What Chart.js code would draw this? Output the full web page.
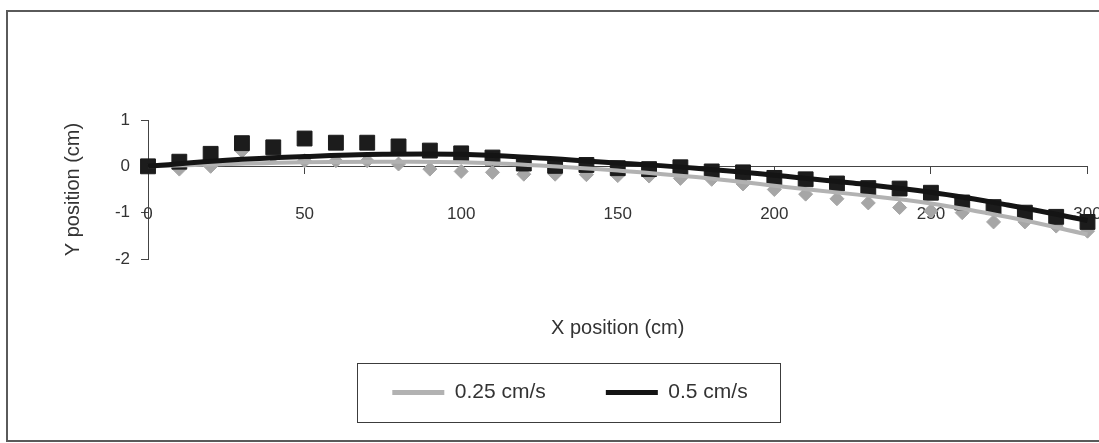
<!DOCTYPE html>
<html>
<head>
<meta charset="utf-8">
<script src="https://cdn.jsdelivr.net/npm/chart.js@4/dist/chart.umd.min.js"></script>
<style>
  html, body { margin: 0; padding: 0; background: #fff; }
  #wrap { position: relative; width: 1099px; height: 443px; overflow: hidden; }
  #frame { position: absolute; left: 6px; top: 10px; width: 1120px; height: 432px; border: 2px solid #5a5a5a; box-sizing: border-box; }
  #chart { position: absolute; left: 0; top: 0; }
</style>
</head>
<body>
<div id="wrap">
  <div id="frame"></div>
  <canvas id="chart" width="1099" height="443"></canvas>
</div>
<script>
// === Data ===
const xPositions = [0, 10, 20, 30, 40, 50, 60, 70, 80, 90, 100, 110, 120, 130, 140, 150,
  160, 170, 180, 190, 200, 210, 220, 230, 240, 250, 260, 270, 280, 290, 300];

// 0.5 cm/s measured points (black squares)
const yFast = [0, 0.1, 0.27, 0.5, 0.41, 0.6, 0.51, 0.51, 0.43, 0.34, 0.28, 0.19, 0.06, 0.01, 0.03, -0.04,
  -0.06, -0.02, -0.11, -0.13, -0.25, -0.28, -0.37, -0.47, -0.48, -0.57, -0.78, -0.88, -1.0, -1.09, -1.2];

// 0.25 cm/s measured points (gray diamonds)
const ySlow = [0, -0.06, 0.0, 0.33, 0.22, 0.12, 0.12, 0.12, 0.05, -0.06, -0.11, -0.13, -0.17, -0.17, -0.18, -0.2,
  -0.21, -0.26, -0.28, -0.38, -0.5, -0.6, -0.7, -0.79, -0.89, -0.96, -1.0, -1.2, -1.2, -1.29, -1.4];

// trend curves
const trendX = [0, 25, 50, 75, 100, 125, 150, 175, 200, 225, 250, 275, 300];
const trendFast = [0, 0.13, 0.21, 0.26, 0.26, 0.18, 0.07, -0.04, -0.19, -0.36, -0.56, -0.84, -1.17];
const trendSlow = [0, 0.05, 0.09, 0.1, 0.09, 0.02, -0.09, -0.23, -0.42, -0.6, -0.8, -1.1, -1.47];

const xTicks = [0, 50, 100, 150, 200, 250, 300];
const yTicks = [-2, -1, 0, 1];

const FONT = "'Liberation Sans', Arial, sans-serif";
const pts = (xs, ys) => xs.map((x, i) => ({ x, y: ys[i] }));

// === Box around the legend ===
const legendFrame = {
  id: "legendFrame",
  afterDraw(chart) {
    const boxes = chart.legend && chart.legend.legendHitBoxes;
    if (!boxes || !boxes.length) return;
    const { ctx } = chart;
    const left = Math.min(...boxes.map((b) => b.left)) - 35;
    const right = Math.max(...boxes.map((b) => b.left + b.width)) + 33;
    const mid = boxes[0].top + boxes[0].height / 2;
    ctx.save();
    ctx.strokeStyle = "#3c3c3c";
    ctx.lineWidth = 1;
    ctx.strokeRect(Math.round(left) + 0.5, Math.round(mid - 29.5) + 0.5, Math.round(right - left), 59);
    ctx.restore();
  },
};

// === Chart ===
new Chart(document.getElementById("chart"), {
  type: "scatter",
  data: {
    datasets: [
      {
        label: "0.25 cm/s",
        data: pts(trendX, trendSlow),
        showLine: true,
        borderColor: "#b2b2b2",
        backgroundColor: "#b2b2b2",
        borderWidth: 4,
        pointRadius: 0,
        tension: 0.4,
        order: 2,
        clip: false,
      },
      {
        label: "0.5 cm/s",
        data: pts(trendX, trendFast),
        showLine: true,
        borderColor: "#141414",
        backgroundColor: "#141414",
        borderWidth: 5,
        pointRadius: 0,
        tension: 0.4,
        order: 1,
        clip: false,
      },
      {
        label: "0.25 cm/s data",
        data: pts(xPositions, ySlow),
        pointStyle: "rectRot",
        pointRadius: 7,
        backgroundColor: "#a6a6a6",
        borderColor: "#a6a6a6",
        borderWidth: 1,
        order: 4,
        clip: false,
      },
      {
        label: "0.5 cm/s data",
        data: pts(xPositions, yFast),
        pointStyle: "rect",
        pointRadius: 10.5,
        backgroundColor: "#1c1c1c",
        borderColor: "#1c1c1c",
        borderWidth: 1,
        order: 3,
        clip: false,
      },
    ],
  },
  options: {
    responsive: false,
    animation: false,
    layout: { padding: { left: 52, right: 11, top: 0, bottom: 30 } },
    scales: {
      x: {
        type: "linear",
        position: { y: 0 },
        min: 0,
        max: 300,
        afterBuildTicks: (s) => { s.ticks = xTicks.map((v) => ({ value: v })); },
        afterFit: (s) => { s.paddingLeft = 0; s.paddingRight = 0; },
        grid: { display: true, drawOnChartArea: false, drawTicks: true, tickLength: 7, tickColor: "#444", tickWidth: 1 },
        border: { display: true, color: "#444", width: 1 },
        ticks: { padding: 31, color: "#333", font: { family: FONT, size: 17 }, maxRotation: 0, autoSkip: false },
        title: {
          display: true,
          text: "X position (cm)",
          color: "#333",
          font: { family: FONT, size: 20 },
          padding: { top: 61, bottom: 0 },
        },
      },
      y: {
        type: "linear",
        position: "left",
        min: -2,
        max: 1,
        afterBuildTicks: (s) => { s.ticks = yTicks.map((v) => ({ value: v })); },
        afterFit: (s) => { s.width = 96; },
        grid: { display: true, drawOnChartArea: false, drawTicks: true, tickLength: 7, tickColor: "#444", tickWidth: 1 },
        border: { display: true, color: "#444", width: 1 },
        ticks: { padding: 11, color: "#333", font: { family: FONT, size: 17 } },
        title: {
          display: true,
          text: "Y position (cm)",
          color: "#333",
          font: { family: FONT, size: 20 },
          padding: { top: 9, bottom: 0 },
        },
      },
    },
    plugins: {
      tooltip: { enabled: false },
      // empty title used as the top margin of the plot
      title: {
        display: true,
        text: "",
        position: "top",
        font: { size: 10, lineHeight: 1 },
        padding: { top: 110, bottom: 0 },
      },
      legend: {
        position: "bottom",
        maxHeight: 300,
        title: { display: true, text: "", font: { size: 10, lineHeight: 1 }, padding: 26.5 },
        labels: {
          boxWidth: 52,
          boxHeight: 5,
          padding: 60,
          color: "#333",
          font: { family: FONT, size: 21 },
          filter: (item) => item.datasetIndex < 2,
          sort: (a, b) => a.datasetIndex - b.datasetIndex,
          generateLabels: (chart) =>
            Chart.defaults.plugins.legend.labels.generateLabels(chart).map((l) => ({ ...l, lineWidth: 0 })),
        },
      },
    },
  },
  plugins: [legendFrame],
});
</script>
</body>
</html>
